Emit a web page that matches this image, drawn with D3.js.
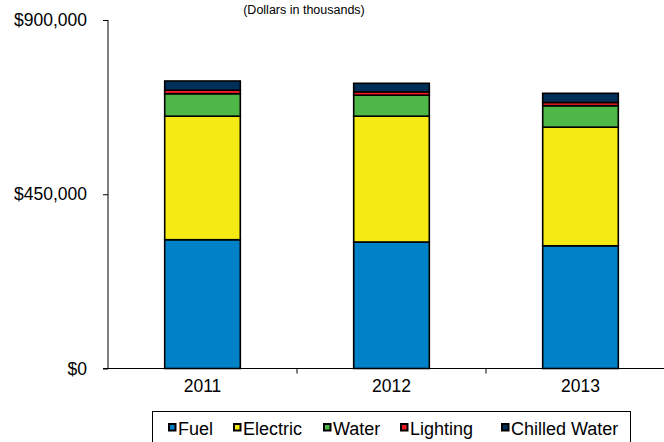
<!DOCTYPE html>
<html>
<head>
<meta charset="utf-8">
<script src="https://cdn.jsdelivr.net/npm/d3@7"></script>
<style>
  body { margin: 0; background: #fff; }
  text { font-family: "Liberation Sans", Arial, sans-serif; fill: #000; }
</style>
</head>
<body>
<div id="chart"></div>
<script>
// Data (dollars in thousands)
const years = ["2011", "2012", "2013"];
const seriesNames = ["Fuel", "Electric", "Water", "Lighting", "Chilled Water"];
const fuel = [332600, 326700, 316900];
const electric = [319000, 324900, 306300];
const water = [58100, 54200, 55500];
const lighting = [9000, 8800, 8300];
const chilledWater = [23800, 21900, 23700];
const yTicks = [0, 450000, 900000];
const colors = ["#0082c8", "#f5ea14", "#4db848", "#ed1c24", "#00305a"];

const width = 664;
const height = 442;

const svg = d3.select("#chart").append("svg")
    .attr("width", width)
    .attr("height", height);

// Build rows for stacking
const rows = years.map((y, i) => ({
  year: y,
  "Fuel": fuel[i],
  "Electric": electric[i],
  "Water": water[i],
  "Lighting": lighting[i],
  "Chilled Water": chilledWater[i]
}));
const stacked = d3.stack().keys(seriesNames)(rows);

const x = d3.scaleBand()
    .domain(years)
    .range([108, 675])
    .paddingInner(0.6)
    .paddingOuter(0.3);

const y = d3.scaleLinear()
    .domain([0, 900000])
    .range([368.5, 20]);

const color = d3.scaleOrdinal().domain(seriesNames).range(colors);

// Title (partly cut off at top)
svg.append("text")
    .attr("x", 304)
    .attr("y", 14)
    .attr("text-anchor", "middle")
    .attr("font-size", 12.5)
    .text("(Dollars in thousands)");

// Bars
svg.append("g")
  .selectAll("g")
  .data(stacked)
  .join("g")
    .attr("fill", d => color(d.key))
  .selectAll("rect")
  .data(d => d)
  .join("rect")
    .attr("x", d => x(d.data.year))
    .attr("y", d => y(d[1]))
    .attr("width", x.bandwidth())
    .attr("height", d => y(d[0]) - y(d[1]))
    .attr("stroke", "#000")
    .attr("stroke-width", 1.6);

// Y axis
const yAxis = svg.append("g")
    .attr("transform", "translate(108,0)")
    .call(d3.axisLeft(y)
      .tickValues(yTicks)
      .tickSize(5)
      .tickPadding(16)
      .tickFormat(d => "$" + d3.format(",")(d)));
yAxis.selectAll("text").attr("font-size", 17.5).style("font-family", "Liberation Sans, Arial, sans-serif");
yAxis.selectAll("line").attr("stroke", "#000");
yAxis.select(".domain").attr("d", "M0,20V368.5").attr("stroke", "#000");

// X axis with ticks between categories
const xAxis = svg.append("g")
    .attr("transform", "translate(0,368.5)");
xAxis.append("line")
    .attr("x1", 103).attr("x2", width)
    .attr("stroke", "#000");
xAxis.selectAll(".sep")
  .data(years.slice(1))
  .join("line")
    .attr("class", "sep")
    .attr("x1", d => x(d) - x.step() * x.paddingInner() / 2)
    .attr("x2", d => x(d) - x.step() * x.paddingInner() / 2)
    .attr("y1", 0).attr("y2", 5)
    .attr("stroke", "#000");
xAxis.selectAll(".lbl")
  .data(years)
  .join("text")
    .attr("class", "lbl")
    .attr("x", d => x(d) + x.bandwidth() / 2)
    .attr("y", 23.5)
    .attr("text-anchor", "middle")
    .attr("font-size", 17.5)
    .text(d => d);

// Legend
const legend = svg.append("g");
legend.append("rect")
    .attr("x", 152.5).attr("y", 411.5)
    .attr("width", 478).attr("height", 40)
    .attr("fill", "#fff")
    .attr("stroke", "#000");
const legendX = [168, 233, 323, 400, 501];
const item = legend.selectAll(".item")
  .data(seriesNames)
  .join("g")
    .attr("class", "item")
    .attr("transform", (d, i) => `translate(${legendX[i]},0)`);
item.append("rect")
    .attr("x", 1).attr("y", 424)
    .attr("width", 6.5).attr("height", 6.5)
    .attr("fill", d => color(d))
    .attr("stroke", "#000")
    .attr("stroke-width", 2);
item.append("text")
    .attr("x", 10)
    .attr("y", 435)
    .attr("font-size", 18)
    .text(d => d);
</script>
</body>
</html>
